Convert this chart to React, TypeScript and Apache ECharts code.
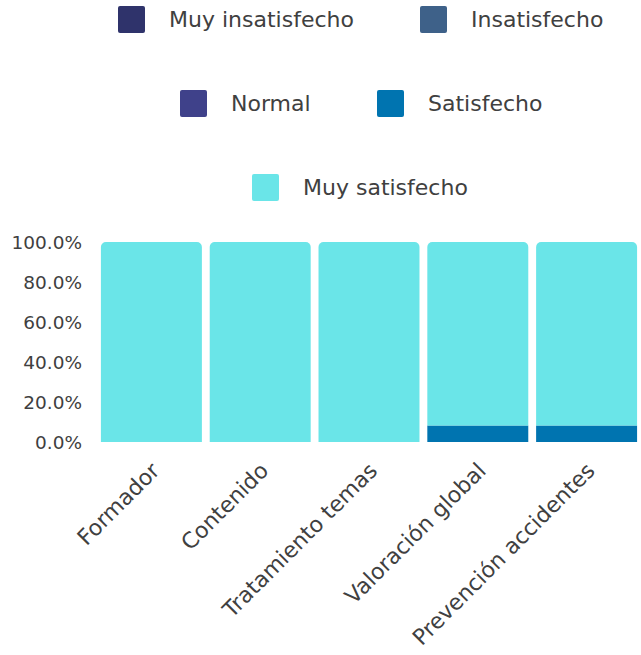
import React, { useEffect, useRef } from "react";
import * as echarts from "echarts";

const categories = ["Formador", "Contenido", "Tratamiento temas", "Valoración global", "Prevención accidentes"];
const seriesNames = ["Muy insatisfecho", "Insatisfecho", "Normal", "Satisfecho", "Muy satisfecho"];
const muyInsatisfecho = [0, 0, 0, 0, 0];
const insatisfecho = [0, 0, 0, 0, 0];
const normal = [0, 0, 0, 0, 0];
const satisfecho = [0, 0, 0, 8.3, 8.3];
const muySatisfecho = [100, 100, 100, 91.7, 91.7];
const colors = ["#2f336b", "#3e6189", "#3f418a", "#0074b0", "#6ae5e8"];

const FONT = "'DejaVu Sans', sans-serif";
const TEXT = "#404040";
const ICON = "path://M2,0 H25 Q27,0 27,2 V25 Q27,27 25,27 H2 Q0,27 0,25 V2 Q0,0 2,0 Z";

export default function App() {
  const ref = useRef<HTMLDivElement>(null);
  useEffect(() => {
    if (!ref.current) return;
    const chart = echarts.init(ref.current, null, { renderer: "svg" });
    const values = [muyInsatisfecho, insatisfecho, normal, satisfecho, muySatisfecho];
    const legendPos = [
      { left: 118, top: 6 },
      { left: 420, top: 6 },
      { left: 180, top: 90 },
      { left: 377, top: 90 },
      { left: 252, top: 174 },
    ];
    chart.setOption({
      animation: false,
      legend: seriesNames.map((n, i) => ({
        data: [n],
        left: legendPos[i].left,
        top: legendPos[i].top,
        padding: 0,
        itemWidth: 27,
        itemHeight: 27,
        icon: ICON,
        selectedMode: false,
        textStyle: { fontFamily: FONT, fontSize: 22, color: TEXT, padding: [0, 0, 0, 19] },
      })),
      grid: { left: 97, right: -3, top: 242, bottom: 213, containLabel: false },
      xAxis: {
        type: "category",
        data: categories,
        axisLine: { show: false },
        axisTick: { show: false },
        axisLabel: {
          rotate: 45,
          margin: 29,
          fontFamily: FONT,
          fontSize: 22,
          color: TEXT,
          interval: 0,
          padding: [10, -6, 0, 0],
        },
      },
      yAxis: {
        type: "value",
        min: 0,
        max: 100,
        interval: 20,
        splitLine: { show: false },
        axisLine: { show: false },
        axisTick: { show: false },
        axisLabel: {
          margin: 15,
          fontFamily: FONT,
          fontSize: 18.5,
          color: TEXT,
          formatter: (v: number) => v.toFixed(1) + "%",
        },
      },
      series: seriesNames.map((n, i) => ({
        name: n,
        type: "bar",
        stack: "total",
        data: values[i],
        barCategoryGap: "7.2%",
        itemStyle: {
          color: colors[i],
          borderRadius: i === 4 ? [5, 5, 0, 0] : 0,
        },
      })),
    });
    return () => chart.dispose();
  }, []);
  return <div ref={ref} style={{ width: 641, height: 655, position: "absolute", left: 0, top: 0 }} />;
}
